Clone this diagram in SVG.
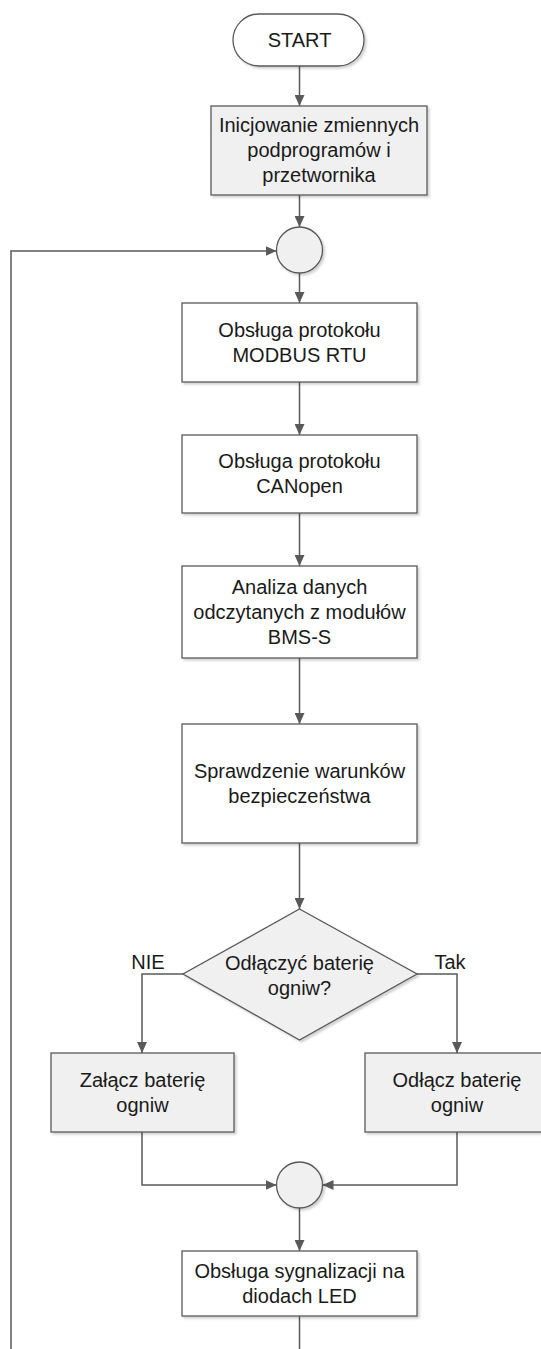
<svg xmlns="http://www.w3.org/2000/svg" width="541" height="1349" viewBox="0 0 541 1349">
<style>
.box{stroke:#595959;stroke-width:1.3;filter:url(#sh)}
.w{fill:#ffffff}
.g{fill:#f0f0f0}
.t{font-family:"Liberation Sans",Arial,sans-serif;font-size:20px;fill:#1a1a1a;text-anchor:middle}
.c{fill:none;stroke:#595959;stroke-width:1.5}
</style>
<defs>
<filter id="sh" x="-10%" y="-10%" width="130%" height="130%">
<feDropShadow dx="2" dy="2" stdDeviation="1" flood-color="#000" flood-opacity="0.18"/>
</filter>
<marker id="ah" markerUnits="userSpaceOnUse" markerWidth="11" markerHeight="10" refX="11" refY="5" orient="auto">
<path d="M0,0 L11,5 L0,10 z" fill="#595959"/>
</marker>
</defs>
<g id="connectors">
<path class="c" d="M299.5,66 V106" marker-end="url(#ah)"/>
<path class="c" d="M299.5,195 V227" marker-end="url(#ah)"/>
<path class="c" d="M299.5,273 V303" marker-end="url(#ah)"/>
<path class="c" d="M299.5,382 V435" marker-end="url(#ah)"/>
<path class="c" d="M299.5,513 V566" marker-end="url(#ah)"/>
<path class="c" d="M299.5,658 V724" marker-end="url(#ah)"/>
<path class="c" d="M299.5,843 V909" marker-end="url(#ah)"/>
<path class="c" d="M183,974 H142 V1053" marker-end="url(#ah)"/>
<path class="c" d="M417,974 H457 V1053" marker-end="url(#ah)"/>
<path class="c" d="M142,1132 V1185 H276.5" marker-end="url(#ah)"/>
<path class="c" d="M457,1132 V1185 H322.5" marker-end="url(#ah)"/>
<path class="c" d="M299.5,1208 V1251" marker-end="url(#ah)"/>
<path class="c" d="M299.5,1316 V1349"/>
<path class="c" d="M11,1349 V251 H276.5" marker-end="url(#ah)"/>
<text class="t" x="148" y="969">NIE</text>
<text class="t" x="450" y="969">Tak</text>
</g>
<g id="start">
<rect class="box w" x="233" y="14" width="131" height="52" rx="26"/>
<text class="t" x="299.5" y="47">START</text>
</g>
<g id="init">
<rect class="box g" x="211" y="106" width="216" height="89"/>
<text class="t" x="319" y="132">Inicjowanie zmiennych</text>
<text class="t" x="319" y="157">podprogramów i</text>
<text class="t" x="319" y="182">przetwornika</text>
</g>
<g id="merge1">
<circle class="box g" cx="299.5" cy="250" r="23"/>
</g>
<g id="modbus">
<rect class="box w" x="182" y="303" width="235" height="79"/>
<text class="t" x="299.5" y="337">Obsługa protokołu</text>
<text class="t" x="299.5" y="362">MODBUS RTU</text>
</g>
<g id="canopen">
<rect class="box w" x="182" y="435" width="235" height="78"/>
<text class="t" x="299.5" y="468">Obsługa protokołu</text>
<text class="t" x="299.5" y="493">CANopen</text>
</g>
<g id="analiza">
<rect class="box w" x="182" y="566" width="235" height="92"/>
<text class="t" x="299.5" y="593.5">Analiza danych</text>
<text class="t" x="299.5" y="618.5">odczytanych z modułów</text>
<text class="t" x="299.5" y="643.5">BMS-S</text>
</g>
<g id="sprawdzenie">
<rect class="box w" x="182" y="724" width="235" height="119"/>
<text class="t" x="299.5" y="778">Sprawdzenie warunków</text>
<text class="t" x="299.5" y="803">bezpieczeństwa</text>
</g>
<g id="decyzja">
<polygon class="box g" points="299.5,909 417,974 299.5,1040 183,974"/>
<text class="t" x="299.5" y="970">Odłączyć baterię</text>
<text class="t" x="299.5" y="995">ogniw?</text>
</g>
<g id="zalacz">
<rect class="box g" x="51" y="1053" width="183" height="79"/>
<text class="t" x="142.5" y="1087">Załącz baterię</text>
<text class="t" x="142.5" y="1112">ogniw</text>
</g>
<g id="odlacz">
<rect class="box g" x="365" y="1053" width="184" height="79"/>
<text class="t" x="457" y="1087">Odłącz baterię</text>
<text class="t" x="457" y="1112">ogniw</text>
</g>
<g id="merge2">
<circle class="box g" cx="299.5" cy="1185" r="23"/>
</g>
<g id="led">
<rect class="box w" x="182" y="1251" width="235" height="65"/>
<text class="t" x="299.5" y="1278">Obsługa sygnalizacji na</text>
<text class="t" x="299.5" y="1303">diodach LED</text>
</g>
</svg>
